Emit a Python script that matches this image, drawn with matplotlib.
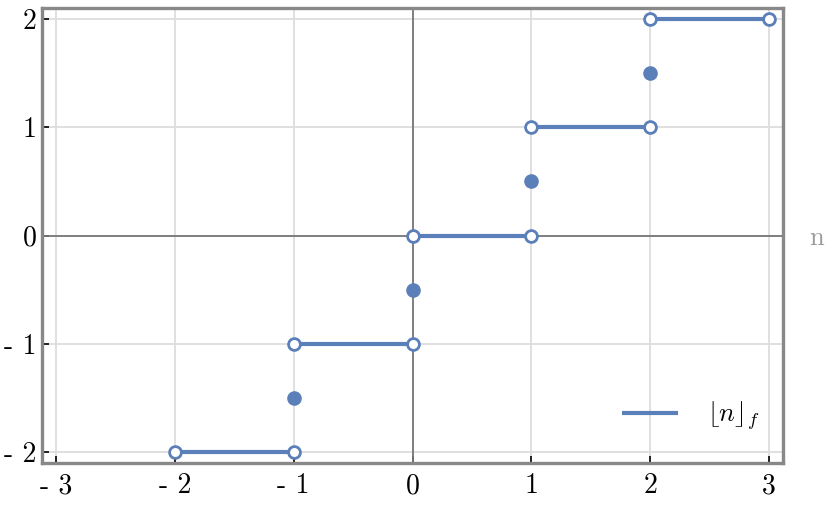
import matplotlib
matplotlib.use("Agg")
import matplotlib.pyplot as plt

# data
seg_starts = [-2, -1, 0, 1, 2]          # segment [k, k+1) at height k
seg_values = [-2, -1, 0, 1, 2]
dot_x = [-1, 0, 1, 2]
dot_y = [-1.5, -0.5, 0.5, 1.5]
xticks = [-3, -2, -1, 0, 1, 2, 3]
yticks = [-2, -1, 0, 1, 2]

color = "#5b7fb8"
plt.rcParams['mathtext.fontset'] = 'cm'

fig = plt.figure(figsize=(8.3, 5.13), dpi=100)
ax = fig.add_axes([42/830, 1-463/513, (783-42)/830, (463-8)/513])
ax.set_xlim(-3.118, 3.118)
ax.set_ylim(-2.10, 2.10)

ax.grid(True, color="#dddddd", linewidth=1.3, zorder=0)
ax.axhline(0, color="#777777", linewidth=1.3, zorder=2)
ax.axvline(0, color="#777777", linewidth=1.3, zorder=2)

for i, (s, v) in enumerate(zip(seg_starts, seg_values)):
    ax.plot([s, s + 1], [v, v], color=color, linewidth=3.0, zorder=3,
            label=r'$\lfloor n\rfloor_f$' if i == 0 else None, solid_capstyle='butt')
    ax.plot([s, s + 1], [v, v], linestyle='none', marker='o', markersize=8.5,
            markerfacecolor='white', markeredgecolor=color, markeredgewidth=2.0, zorder=4, clip_on=False)
ax.plot(dot_x, dot_y, linestyle='none', marker='o', markersize=9.5,
        color=color, zorder=4)

for sp in ax.spines.values():
    sp.set_color("#888888")
    sp.set_linewidth(2.4)

ax.set_xticks(xticks)
ax.set_yticks(yticks)
ax.set_xticklabels([str(t).replace('-', '- ') for t in xticks], family='cmr10', fontsize=20)
ax.set_yticklabels([str(t).replace('-', '- ') for t in yticks], family='cmr10', fontsize=20)
ax.tick_params(axis='x', direction='in', length=5, width=1.2, color='black', pad=7)
ax.tick_params(axis='y', direction='in', length=5, width=1.2, color='black', pad=4)

ax.text(816/830, 1-238/513, 'n', transform=fig.transFigure, family='cmr10',
        fontsize=19, color='#999999', ha='center', va='center')

ax.legend(loc='lower right', frameon=False, fontsize=19, handlelength=2.1,
          handletextpad=1.1, bbox_to_anchor=(1.0, 0.015))

fig.savefig("out.png", dpi=100)
